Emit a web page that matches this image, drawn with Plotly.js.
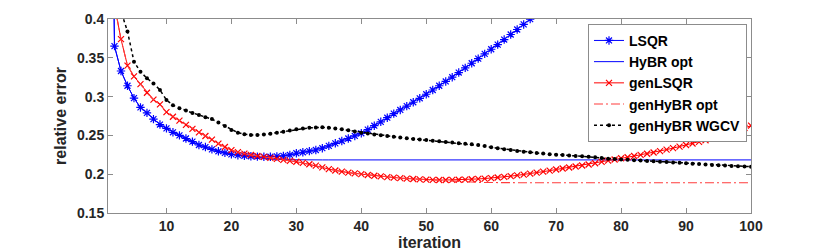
<!DOCTYPE html>
<html>
<head>
<meta charset="utf-8">
<script src="https://cdn.plot.ly/plotly-3.0.1.min.js"></script>
<style>html,body{margin:0;padding:0;background:#fff;}#chart{width:830px;height:252px;}</style>
</head>
<body>
<div id="chart"></div>
<script>
const seriesNames = ['LSQR', 'HyBR opt', 'genLSQR', 'genHyBR opt', 'genHyBR WGCV'];
const xTicks = [10, 20, 30, 40, 50, 60, 70, 80, 90, 100];
const yTicks = [0.15, 0.2, 0.25, 0.3, 0.35, 0.4];
const yTickText = ['0.15', '0.2', '0.25', '0.3', '0.35', '0.4'];

const lsqr = [1.0, 0.365, 0.333, 0.314, 0.298, 0.286, 0.279, 0.271, 0.264, 0.259,
  0.254, 0.250, 0.246, 0.242, 0.2376, 0.235, 0.232, 0.2295, 0.2275, 0.2256,
  0.2245, 0.2237, 0.2231, 0.2226, 0.2224, 0.2225, 0.2229, 0.2236, 0.2248, 0.227,
  0.2283, 0.2297, 0.2312, 0.2335, 0.2365, 0.2398, 0.2428, 0.246, 0.2493, 0.2527,
  0.2575, 0.2625, 0.2675, 0.2728, 0.278, 0.2828, 0.2877, 0.2927, 0.2978, 0.303,
  0.3085, 0.314, 0.3195, 0.325, 0.331, 0.337, 0.343, 0.349, 0.355, 0.361,
  0.367, 0.3735, 0.38, 0.3865, 0.393, 0.3998, 0.4065, 0.4135];

const hybrOpt = [1.0, 0.365, 0.333, 0.314, 0.298, 0.286, 0.279, 0.271, 0.264, 0.259,
  0.254, 0.250, 0.246, 0.242, 0.2376, 0.235, 0.232, 0.2295, 0.2275, 0.2256,
  0.2245, 0.2235, 0.2225, 0.2215, 0.2205, 0.2197, 0.2191, 0.2187, 0.2185, 0.2184,
  0.2184, 0.2184, 0.2184, 0.2184, 0.2184, 0.2184, 0.2184, 0.2184, 0.2184, 0.2184,
  0.2184, 0.2184, 0.2184, 0.2184, 0.2184, 0.2184, 0.2184, 0.2184, 0.2184, 0.2184,
  0.2184, 0.2184, 0.2184, 0.2184, 0.2184, 0.2184, 0.2184, 0.2184, 0.2184, 0.2184,
  0.2184, 0.2184, 0.2184, 0.2184, 0.2184, 0.2184, 0.2184, 0.2184, 0.2184, 0.2184,
  0.2184, 0.2184, 0.2184, 0.2184, 0.2184, 0.2184, 0.2184, 0.2184, 0.2184, 0.2184,
  0.2184, 0.2184, 0.2184, 0.2184, 0.2184, 0.2184, 0.2184, 0.2184, 0.2184, 0.2184,
  0.2184, 0.2184, 0.2184, 0.2184, 0.2184, 0.2184, 0.2184, 0.2184, 0.2184, 0.2184];

const genLsqr = [0.6, 0.418, 0.374, 0.340, 0.326, 0.316, 0.305, 0.296, 0.290, 0.280,
  0.274, 0.269, 0.2635, 0.2585, 0.254, 0.2492, 0.2445, 0.2395, 0.235, 0.231,
  0.2285, 0.2265, 0.2248, 0.2235, 0.2224, 0.2212, 0.2198, 0.2185, 0.2172, 0.216,
  0.2145, 0.2128, 0.211, 0.2088, 0.2065, 0.2048, 0.2033, 0.202, 0.201, 0.200,
  0.199, 0.198, 0.1971, 0.1962, 0.1955, 0.1949, 0.1943, 0.1938, 0.1934, 0.193,
  0.1927, 0.1925, 0.1925, 0.1926, 0.1928, 0.1931, 0.1935, 0.1939, 0.1944, 0.195,
  0.1958, 0.1966, 0.1975, 0.1985, 0.1995, 0.2007, 0.202, 0.2033, 0.2046, 0.206,
  0.2073, 0.2086, 0.2099, 0.2112, 0.2125, 0.2141, 0.2158, 0.2175, 0.219, 0.2205,
  0.2219, 0.2234, 0.2249, 0.2264, 0.228, 0.2298, 0.2317, 0.2336, 0.2356, 0.2376,
  0.2396, 0.2417, 0.2438, 0.246, 0.2483, 0.2511, 0.2539, 0.2567, 0.2596, 0.2625];

const genHybrOpt = [0.6, 0.418, 0.374, 0.340, 0.326, 0.316, 0.305, 0.296, 0.290, 0.280,
  0.274, 0.269, 0.2635, 0.2585, 0.254, 0.2492, 0.2445, 0.2395, 0.235, 0.231,
  0.2285, 0.2265, 0.2248, 0.2235, 0.2224, 0.2212, 0.2198, 0.2185, 0.2172, 0.216,
  0.2145, 0.2128, 0.211, 0.2088, 0.2065, 0.2048, 0.2033, 0.202, 0.201, 0.200,
  0.199, 0.198, 0.1971, 0.1962, 0.1955, 0.1949, 0.1943, 0.1938, 0.1934, 0.193,
  0.1927, 0.1925, 0.1922, 0.1916, 0.1909, 0.1903, 0.1898, 0.1895, 0.1893, 0.1891,
  0.189, 0.189, 0.189, 0.189, 0.189, 0.189, 0.189, 0.189, 0.189, 0.189,
  0.189, 0.189, 0.189, 0.189, 0.189, 0.189, 0.189, 0.189, 0.189, 0.189,
  0.189, 0.189, 0.189, 0.189, 0.189, 0.189, 0.189, 0.189, 0.189, 0.189,
  0.189, 0.189, 0.189, 0.189, 0.189, 0.189, 0.189, 0.189, 0.189, 0.189];

const genHybrWgcv = [0.7, 0.5, 0.41, 0.384, 0.345, 0.332, 0.3236, 0.317, 0.3085, 0.2956,
  0.289, 0.285, 0.282, 0.279, 0.2763, 0.2735, 0.271, 0.2665, 0.262, 0.257,
  0.2535, 0.2515, 0.2505, 0.2505, 0.251, 0.2522, 0.2535, 0.2548, 0.2563, 0.2578,
  0.2588, 0.2597, 0.2602, 0.2604, 0.26, 0.259, 0.2578, 0.2565, 0.255, 0.2535,
  0.2523, 0.2512, 0.2502, 0.2492, 0.2483, 0.2472, 0.2463, 0.2455, 0.2447, 0.244,
  0.2432, 0.2424, 0.2415, 0.2408, 0.24, 0.2392, 0.2385, 0.2376, 0.2362, 0.2346,
  0.2335, 0.2323, 0.2312, 0.23, 0.229, 0.2282, 0.2274, 0.2266, 0.2258, 0.2251,
  0.2246, 0.2241, 0.2236, 0.2231, 0.2226, 0.2218, 0.2208, 0.22, 0.2195, 0.219,
  0.2186, 0.2181, 0.2176, 0.2171, 0.2166, 0.2162, 0.2157, 0.2152, 0.2146, 0.214,
  0.2135, 0.213, 0.2125, 0.212, 0.2115, 0.2111, 0.2107, 0.2103, 0.21, 0.2097];

function iters(arr) { return arr.map((_, i) => i + 1); }

const F = 'Liberation Sans, Arial, Helvetica, sans-serif';

const traces = [
  { x: iters(lsqr), y: lsqr, name: seriesNames[0], type: 'scatter', mode: 'lines+markers',
    line: { color: '#0000ff', width: 1 },
    marker: { symbol: 'asterisk-open', size: 7, color: '#0000ff', line: { color: '#0000ff', width: 1.2 } } },
  { x: iters(hybrOpt), y: hybrOpt, name: seriesNames[1], type: 'scatter', mode: 'lines',
    line: { color: '#0000ff', width: 1 } },
  { x: iters(genLsqr), y: genLsqr, name: seriesNames[2], type: 'scatter', mode: 'lines+markers',
    line: { color: '#ff0000', width: 1 },
    marker: { symbol: 'x-thin-open', size: 6, color: '#ff0000', line: { color: '#ff0000', width: 1.2 } } },
  { x: iters(genHybrOpt), y: genHybrOpt, name: seriesNames[3], type: 'scatter', mode: 'lines',
    line: { color: '#ff3c3c', width: 1.1, dash: '9px,3px,2px,3px' } },
  { x: iters(genHybrWgcv), y: genHybrWgcv, name: seriesNames[4], type: 'scatter', mode: 'lines+markers',
    line: { color: '#000000', width: 1.5, dash: 'dot' },
    marker: { symbol: 'circle', size: 4, color: '#000000' } }
];

const axisCommon = {
  showline: true, linecolor: '#8c8c8c', linewidth: 1, mirror: 'ticks',
  ticks: 'inside', ticklen: 5, tickcolor: '#8c8c8c', tickwidth: 1,
  showgrid: false, zeroline: false,
  tickfont: { family: F, size: 14, color: '#262626', weight: 'bold' }
};

const layout = {
  width: 830, height: 252,
  margin: { l: 108, r: 79, t: 19, b: 39 },
  paper_bgcolor: '#ffffff', plot_bgcolor: '#ffffff',
  showlegend: true,
  xaxis: Object.assign({}, axisCommon, {
    range: [1, 100], tickvals: xTicks,
    title: { text: 'iteration', font: { family: F, size: 16, color: '#262626', weight: 'bold' }, standoff: 3 }
  }),
  yaxis: Object.assign({}, axisCommon, {
    range: [0.15, 0.4], tickvals: yTicks, ticktext: yTickText,
    title: { text: 'relative error', font: { family: F, size: 16, color: '#262626', weight: 'bold' }, standoff: 6 }
  }),
  legend: {
    x: 0.7465, y: 0.975, xanchor: 'left', yanchor: 'top',
    bgcolor: '#ffffff', bordercolor: '#8c8c8c', borderwidth: 1,
    font: { family: F, size: 14, color: '#000000', weight: 'bold' },
    itemwidth: 30, tracegroupgap: 0
  }
};

Plotly.newPlot('chart', traces, layout, { displayModeBar: false, staticPlot: true });
</script>
</body>
</html>
